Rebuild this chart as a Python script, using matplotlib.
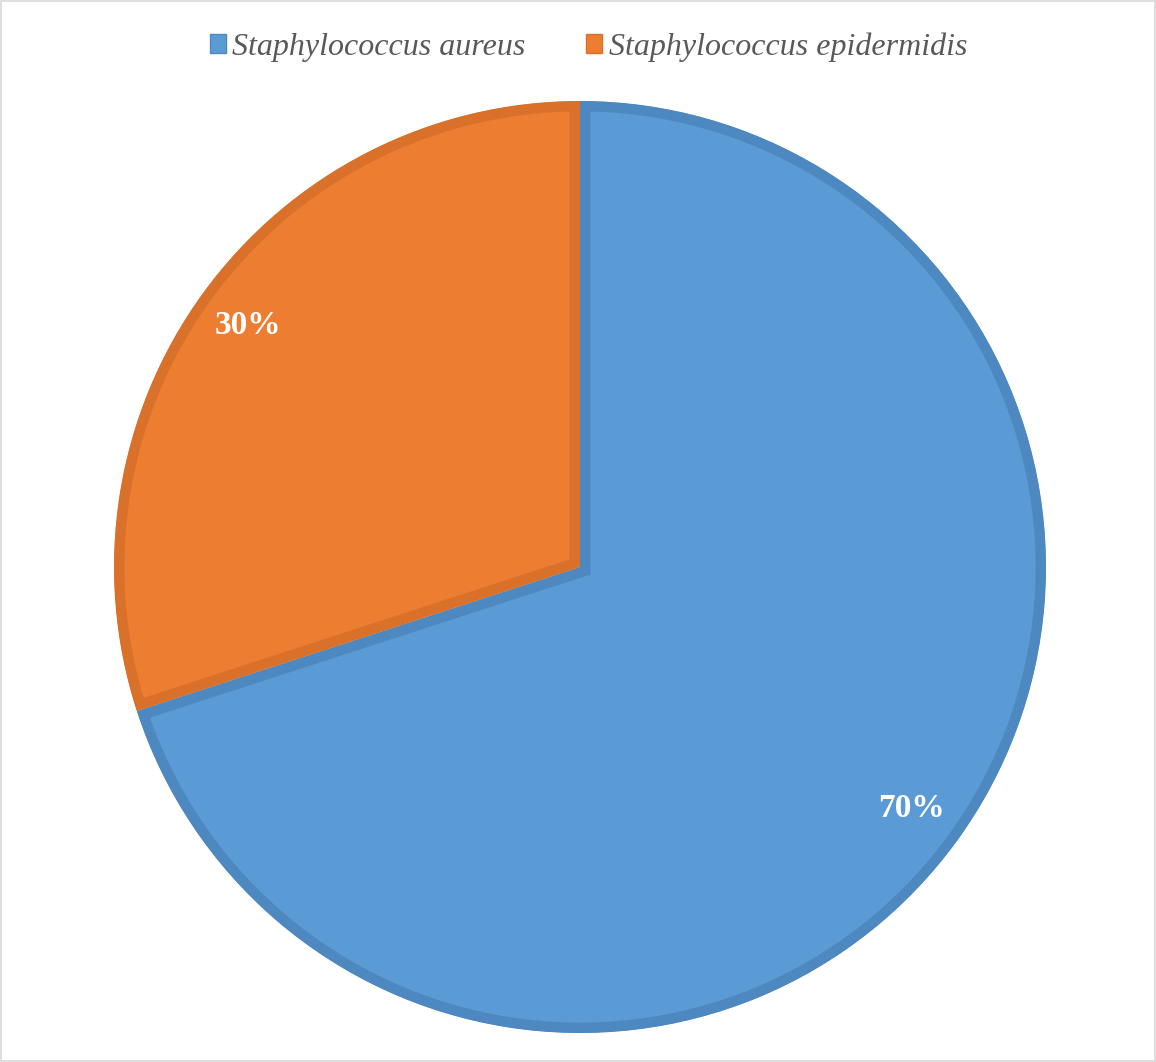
import matplotlib.pyplot as plt
from matplotlib.patches import Rectangle, Wedge

# data
species = ["Staphylococcus aureus", "Staphylococcus epidermidis"]
shares = [70, 30]
fills = ["#5B9BD5", "#ED7D31"]
edges = ["#4E88C0", "#D9712B"]

fig = plt.figure(figsize=(11.56, 10.62), dpi=100)
fig.patches.append(Rectangle((0.0005, 0.0005), 0.999, 0.999, transform=fig.transFigure,
                             fill=False, edgecolor="#D9D9D9", linewidth=1.2))

ax = fig.add_axes([(580 - 466) / 1156, 29 / 1062, 932 / 1156, 932 / 1062])
wedges, texts, autotexts = ax.pie(
    shares, colors=fills, startangle=90, counterclock=False,
    autopct="%1.0f%%", pctdistance=0.88, radius=1,
    textprops=dict(color="white", fontsize=24, fontweight="bold",
                   family="Liberation Serif"))

ax.set_xlim(-1, 1)
ax.set_ylim(-1, 1)
ax.set_aspect("equal")
ax.axis("off")

# inner stroke: thick edge clipped to a copy of the wedge (pie sets clip_on=False)
for w, ec in zip(wedges, edges):
    clip = Wedge(w.center, w.r, w.theta1, w.theta2, transform=ax.transData)
    w.set_edgecolor(ec)
    w.set_linewidth(15)
    w.set_joinstyle("miter")
    w.set_clip_on(True)
    w.set_clip_path(clip)

handles = [Rectangle((0, 0), 1, 1, facecolor=f, edgecolor=e, linewidth=1) for f, e in zip(fills, edges)]
fig.legend(handles, species, loc="center", bbox_to_anchor=(0.509, 1 - 47 / 1062), ncol=2,
           frameon=False, handlelength=0.5, handleheight=0.5, handletextpad=0.2,
           columnspacing=1.9,
           prop=dict(family="Liberation Serif", style="italic", size=23),
           labelcolor="#595959")

fig.savefig("out.png", dpi=100)
